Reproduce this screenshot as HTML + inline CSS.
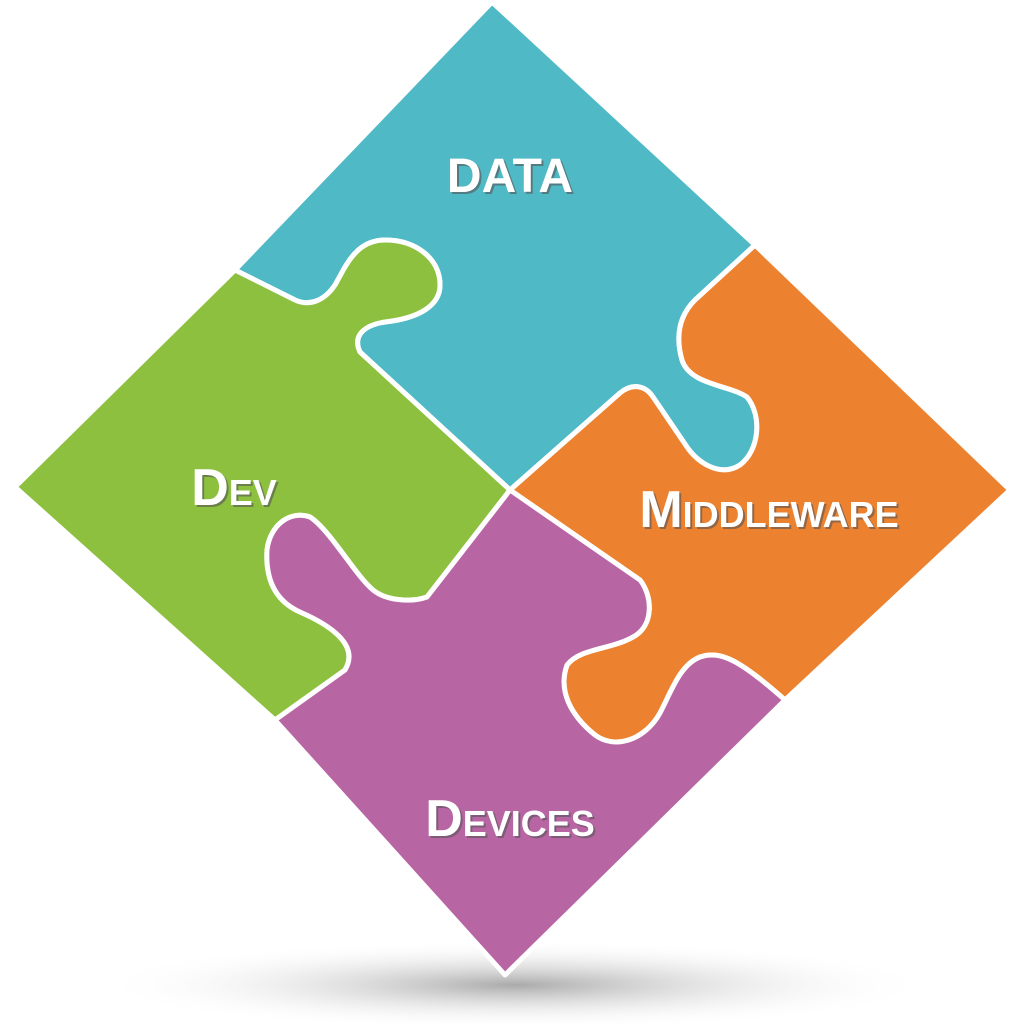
<!DOCTYPE html>
<html><head><style>
html,body{margin:0;padding:0;background:#fff;}
svg{display:block;}
text{font-family:"Liberation Sans",sans-serif;font-weight:bold;font-variant:small-caps;text-anchor:middle;}
.s{fill:#555;opacity:.6}
.t{fill:#fff}
</style></head><body>
<svg width="1024" height="1024" viewBox="0 0 1024 1024">
<defs>
<radialGradient id="sh" cx="50%" cy="50%" r="50%">
<stop offset="0" stop-color="#aaa"/><stop offset="1" stop-color="#fff" stop-opacity="0"/>
</radialGradient>
</defs>
<ellipse cx="515" cy="985" rx="420" ry="45" fill="url(#sh)"/>
<g stroke="#fff" stroke-width="5" stroke-linejoin="round">
<path fill="#4fb9c6" d="M492,2 L755,245 L695,300 C680,315 675,335 682,360 C690,385 730,385 747,397 C762,415 760,450 740,465 C720,478 697,462 687,447 L653,397 C645,385 632,383 620,393 L510,490 L360,352 C352,335 365,325 385,322 C420,318 440,305 440,285 C440,258 415,240 385,240 C355,240 345,268 335,285 C325,300 310,307 295,300 L235,270 Z"/>
<path fill="#8dc03f" d="M510,490 L360,352 C352,335 365,325 385,322 C420,318 440,305 440,285 C440,258 415,240 385,240 C355,240 345,268 335,285 C325,300 310,307 295,300 L235,270 L15,487 L275,720 L345,670 C360,645 330,625 300,612 C280,603 265,585 267,550 C270,525 290,510 310,517 C330,530 355,575 373,590 C385,600 410,603 427,597 Z"/>
<path fill="#ec8230" d="M510,490 L620,393 C632,383 645,385 653,397 L687,447 C697,462 720,478 740,465 C760,450 762,415 747,397 C730,385 690,385 682,360 C675,335 680,315 695,300 L755,245 L1010,490 L785,700 C740,660 720,650 700,657 C680,665 672,690 660,713 C645,740 615,750 595,735 C570,715 558,690 567,665 C580,648 610,650 633,637 C655,625 652,595 640,580 Z"/>
<path fill="#b865a4" d="M510,490 L640,580 C652,595 655,625 633,637 C610,650 580,648 567,665 C558,690 570,715 595,735 C615,750 645,740 660,713 C672,690 680,665 700,657 C720,650 740,660 785,700 L505,975 L275,720 L345,670 C360,645 330,625 300,612 C280,603 265,585 267,550 C270,525 290,510 310,517 C330,530 355,575 373,590 C385,600 410,603 427,597 Z"/>
</g>
<text class="s" x="512" y="194" font-size="48">DATA</text>
<text class="t" x="510" y="192" font-size="48">DATA</text>
<text class="s" x="236" y="507" font-size="52">Dev</text>
<text class="t" x="234" y="505" font-size="52">Dev</text>
<text class="s" x="771" y="529" font-size="52">Middleware</text>
<text class="t" x="769" y="527" font-size="52">Middleware</text>
<text class="s" x="512" y="838" font-size="52">Devices</text>
<text class="t" x="510" y="836" font-size="52">Devices</text>
</svg>
</body></html>
